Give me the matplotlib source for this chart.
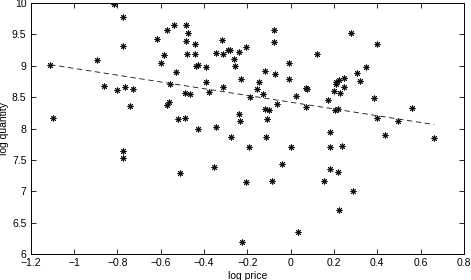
import numpy as np
import matplotlib
matplotlib.use("Agg")
import matplotlib.pyplot as plt

log_price = [
    -0.813, -0.773, -0.773, -0.618, -1.110, -0.895, -0.862, -0.802, -0.763, -0.726,
    -0.742, -1.098, -0.773, -0.773,
    -0.539, -0.570, -0.484, -0.475, -0.484, -0.443, -0.318, -0.077, -0.075, -0.207,
    -0.240, -0.288, -0.282, -0.344, -0.313, -0.584, -0.480, -0.443, -0.599, -0.261,
    -0.255, -0.427, -0.435, -0.389, -0.008, -0.530, -0.117, -0.074, -0.008, -0.228,
    -0.389, -0.555, -0.145, -0.312, -0.157, 0.074, 0.072, -0.375, -0.487, -0.463,
    -0.126, -0.189, 0.026, -0.563, -0.569, -0.064, 0.072, -0.118, -0.099, -0.240,
    -0.234, -0.109, -0.521, -0.489, -0.426, -0.343, -0.275, -0.114,
    -0.194, 0.000, -0.039, -0.354, -0.512, -0.206, -0.087, 0.035, -0.224,
    0.281, 0.398, 0.122, 0.349, 0.306, 0.321, 0.245, 0.223, 0.208, 0.211,
    0.247, 0.199, 0.226, 0.383, 0.171, 0.206, 0.217, 0.561, 0.398, 0.497,
    0.183, 0.435, 0.663,
    0.181, 0.235, 0.183, 0.217, 0.152, 0.286, 0.223,
]
log_quantity = [
    9.980, 9.777, 9.320, 9.420, 9.017, 9.100, 8.677, 8.614, 8.661, 8.625,
    8.363, 8.162, 7.646, 7.525,
    9.654, 9.575, 9.649, 9.527, 9.399, 9.342, 9.410, 9.570, 9.383, 9.299,
    9.224, 9.256, 9.245, 9.208, 9.192, 9.176, 9.182, 9.192, 9.044, 9.113,
    8.996, 9.007, 8.990, 8.975, 9.044, 8.905, 8.921, 8.869, 8.794, 8.784,
    8.746, 8.714, 8.741, 8.661, 8.629, 8.629, 8.640, 8.587, 8.566, 8.550,
    8.550, 8.497, 8.523, 8.422, 8.375, 8.390, 8.347, 8.311, 8.295, 8.226,
    8.115, 8.151, 8.147, 8.163, 7.992, 8.019, 7.865, 7.865,
    7.710, 7.705, 7.439, 7.382, 7.286, 7.152, 7.163, 6.355, 6.196,
    9.522, 9.342, 9.192, 8.980, 8.890, 8.752, 8.805, 8.768, 8.736, 8.709,
    8.657, 8.603, 8.571, 8.491, 8.454, 8.300, 8.316, 8.327, 8.162, 8.124,
    7.949, 7.896, 7.853,
    7.705, 7.726, 7.360, 7.312, 7.158, 7.009, 6.701,
]
x_ticks = [-1.2, -1, -0.8, -0.6, -0.4, -0.2, 0, 0.2, 0.4, 0.6, 0.8]
y_ticks = [6, 6.5, 7, 7.5, 8, 8.5, 9, 9.5, 10]

plt.rcParams['font.family'] = ['Liberation Sans', 'DejaVu Sans']
plt.rcParams['font.size'] = 7.5

fig = plt.figure(figsize=(4.71, 2.80), dpi=100)
ax = fig.add_axes([0.065, 0.093, 0.920, 0.896])

x = np.array(log_price)
y = np.array(log_quantity)
ax.plot(x, y, linestyle='none', marker=(8, 2, 0), markersize=4.2,
        markeredgecolor='#111111', markeredgewidth=0.7, color='#111111')

coef = np.polyfit(x, y, 1)
xl = np.array([x.min(), x.max()])
ax.plot(xl, np.polyval(coef, xl), linestyle=(0, (6, 4)), color='#222222', linewidth=0.65)

ax.set_xlim(-1.2, 0.8)
ax.set_ylim(6, 10)
ax.set_xticks(x_ticks)
ax.set_yticks(y_ticks)
ax.set_xticklabels([('%g' % t).replace('-', '\u2212') for t in x_ticks])
ax.set_yticklabels([('%g' % t) for t in y_ticks])
ax.tick_params(direction='in', top=True, right=True, length=3.5, width=0.6, pad=3)
for s in ax.spines.values():
    s.set_linewidth(0.7)
ax.set_xlabel('log price', labelpad=2)
ax.set_ylabel('log quantity', labelpad=2)

fig.savefig('out.png', dpi=100)
